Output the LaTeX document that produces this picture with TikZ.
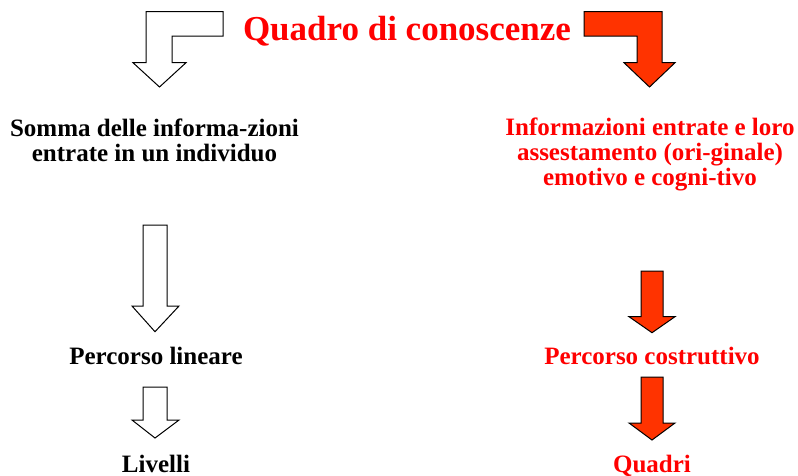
\documentclass[tikz,border=0pt]{standalone}
\usepackage{fontspec}
\setmainfont{Liberation Serif}
\begin{document}
\begin{tikzpicture}[x=1pt,y=-1pt,
  whitearrow/.style={draw=black,fill=white,line width=1pt,line join=miter},
  redarrow/.style={draw=black,fill=arrowred,line width=1pt,line join=miter},
  blacktext/.style={anchor=base,inner sep=0pt,text=black,font=\fontsize{25}{25}\selectfont\bfseries},
  redtext/.style={anchor=base,inner sep=0pt,text=red,font=\fontsize{25}{25}\selectfont\bfseries},
  titletext/.style={anchor=base,inner sep=0pt,text=red,font=\fontsize{35}{35}\selectfont\bfseries}]
\definecolor{arrowred}{HTML}{FF3300}
\useasboundingbox (0,0) rectangle (798,475);
% title
\node[titletext] (title) at (407,40) {Quadro di conoscenze};
% bent arrows
\draw[whitearrow] (223,11.7) -- (146,11.7) -- (146,62.7) -- (133,62.7) -- (159.5,87) -- (186,62.7) -- (172,62.7) -- (172,36) -- (223,36) -- cycle;
\draw[redarrow] (584,11.7) -- (662,11.7) -- (662,62.7) -- (675,62.7) -- (649.5,87) -- (624,62.7) -- (637,62.7) -- (637,36) -- (584,36) -- cycle;
% left column
\node[blacktext] (sl1) at (154.5,136) {Somma delle informa-zioni};
\node[blacktext] (sl2) at (154.5,161) {entrate in un individuo};
\draw[whitearrow] (143,225) -- (167,225) -- (167,306) -- (179,306) -- (155,331.7) -- (132,306) -- (143,306) -- cycle;
\node[blacktext] (pl) at (156,364) {Percorso lineare};
\draw[whitearrow] (143,387) -- (167,387) -- (167,420) -- (179,420) -- (155,438) -- (132,420) -- (143,420) -- cycle;
\node[blacktext] (liv) at (156,472) {Livelli};
% right column
\node[redtext] (ir1) at (650,135) {Informazioni entrate e loro};
\node[redtext] (ir2) at (650,160) {assestamento (ori-ginale)};
\node[redtext] (ir3) at (650,185) {emotivo e cogni-tivo};
\draw[redarrow] (641,271) -- (663,271) -- (663,316.7) -- (675,316.7) -- (652,332.7) -- (629,316.7) -- (641,316.7) -- cycle;
\node[redtext] (pc) at (652,364) {Percorso costruttivo};
\draw[redarrow] (641,377) -- (663,377) -- (663,423) -- (675,423) -- (652,440) -- (629,423) -- (641,423) -- cycle;
\node[redtext] (qd) at (652,472) {Quadri};
\end{tikzpicture}
\end{document}
